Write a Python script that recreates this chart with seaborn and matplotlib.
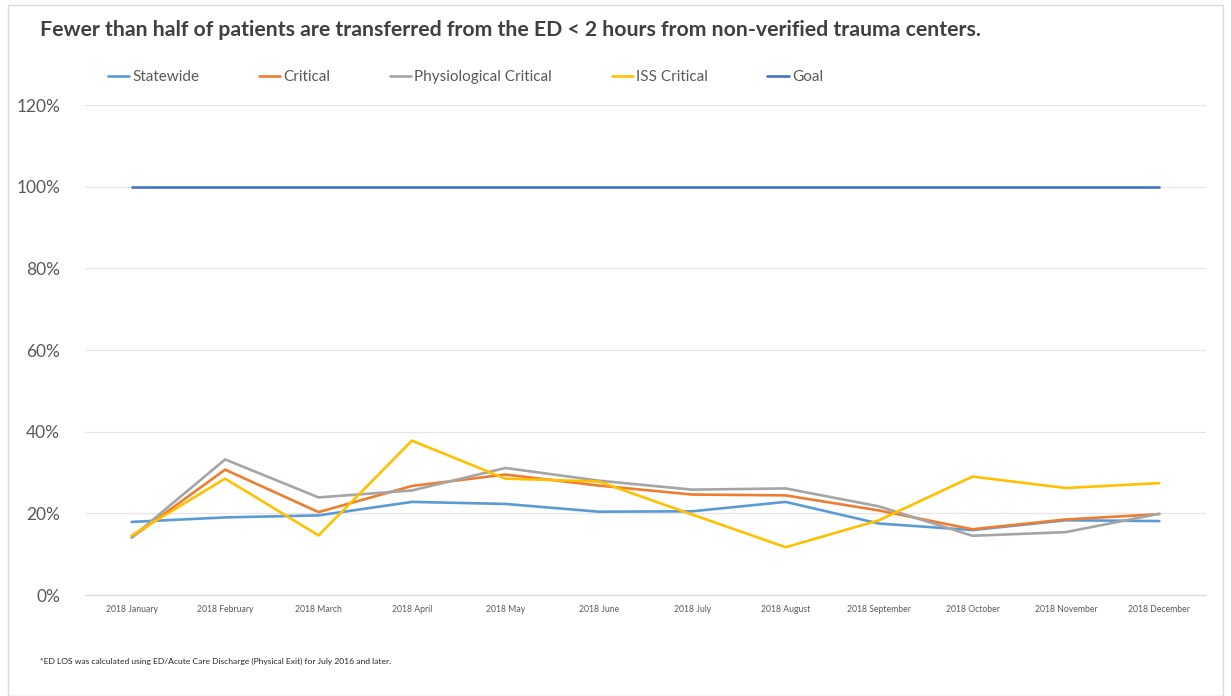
import pandas as pd
import seaborn as sns
import matplotlib.pyplot as plt
from matplotlib.patches import Rectangle
from matplotlib.ticker import PercentFormatter

# Monthly share of patients transferred from the ED in < 2 hours
months = ['2018 January', '2018 February', '2018 March', '2018 April', '2018 May', '2018 June',
          '2018 July', '2018 August', '2018 September', '2018 October', '2018 November', '2018 December']
statewide = [17.9, 19.0, 19.5, 22.8, 22.3, 20.4, 20.5, 22.8, 17.5, 15.9, 18.3, 18.1]
critical = [14.1, 30.7, 20.3, 26.7, 29.5, 26.8, 24.6, 24.4, 20.7, 16.1, 18.5, 19.8]
physio_critical = [14.1, 33.2, 23.9, 25.6, 31.1, 28.0, 25.8, 26.1, 21.7, 14.5, 15.4, 19.9]
iss_critical = [14.6, 28.5, 14.6, 37.8, 28.5, 27.8, 19.7, 11.7, 18.3, 29.0, 26.2, 27.4]
goal = [100] * 12

series_names = ['Statewide', 'Critical', 'Physiological Critical', 'ISS Critical', 'Goal']
series_values = [statewide, critical, physio_critical, iss_critical, goal]
colors = ['#5B9BD5', '#ED7D31', '#A5A5A5', '#FFC000', '#4472C4']

df = pd.concat([pd.DataFrame({'month': months, 'value': vals, 'series': name})
                for name, vals in zip(series_names, series_values)], ignore_index=True)

sns.set_style('white')
plt.rcParams['font.family'] = ['Lato', 'DejaVu Sans']

fig = plt.figure(figsize=(12.31, 6.96), dpi=100)
ax = fig.add_axes([85 / 1231, 1 - 595 / 696, (1206 - 85) / 1231, (595 - 105) / 696])

sns.lineplot(data=df, x='month', y='value', hue='series', hue_order=series_names,
             palette=colors, linewidth=1.9, sort=False, ax=ax, legend=False)

ax.set_xlim(-0.5, 11.5)
ax.set_ylim(0, 120)
ax.set_yticks(range(0, 121, 20))
ax.yaxis.set_major_formatter(PercentFormatter(decimals=0))
ax.grid(axis='y', color='#E6E6E6', linewidth=0.9)
ax.set_axisbelow(True)
for s in ['top', 'right', 'left']:
    ax.spines[s].set_visible(False)
ax.spines['bottom'].set_color('#D9D9D9')
ax.set_xlabel('')
ax.set_ylabel('')
ax.tick_params(axis='y', labelsize=12.5, colors='#595959', length=0, pad=18)
ax.tick_params(axis='x', labelsize=6.2, colors='#595959', length=0, pad=7)

# Legend across the top
handles = [plt.Line2D([], [], color=c, linewidth=1.9) for c in colors]
fig.legend(handles, series_names, loc='center left', bbox_to_anchor=(94 / 1231, 1 - 77 / 696),
           ncol=5, frameon=False, fontsize=11, handlelength=1.4, handletextpad=0.2,
           columnspacing=3.9, labelcolor='#595959')

fig.text(40 / 1231, 1 - 30 / 696,
         'Fewer than half of patients are transferred from the ED < 2 hours from non-verified trauma centers.',
         fontsize=15.3, fontweight='bold', color='#404040', va='center', ha='left')
fig.text(40 / 1231, 1 - 661 / 696,
         '*ED LOS was calculated using ED/Acute Care Discharge (Physical Exit) for July 2016 and later.',
         fontsize=6.1, color='#262626', va='center', ha='left')

# Chart frame
fig.patches.append(Rectangle((8 / 1231, 0), (1223 - 8) / 1231, 1 - 5 / 696, transform=fig.transFigure,
                             fill=False, edgecolor='#D9D9D9', linewidth=1.0))

plt.savefig('out.png', dpi=100)
